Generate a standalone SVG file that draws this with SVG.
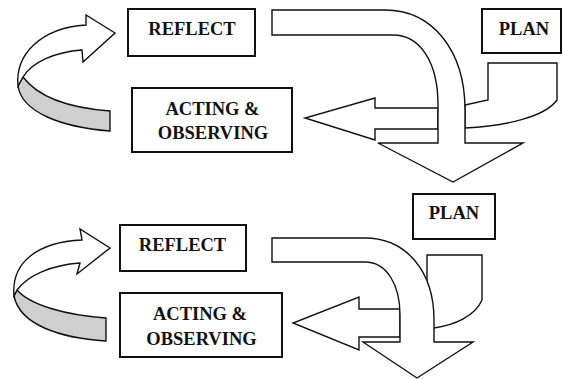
<svg xmlns="http://www.w3.org/2000/svg" width="563" height="379" viewBox="0 0 563 379">
<style>
.box{fill:#fff;stroke:#111;stroke-width:2}
.lbl{font-family:"Liberation Serif","Times New Roman",serif;font-weight:bold;font-size:18.5px;fill:#111;text-anchor:middle}
.arr{fill:#fff;stroke:#111;stroke-width:1.4;stroke-linejoin:miter}
.band{fill:#cfcfcf;stroke:#111;stroke-width:1.4}
</style>
<rect width="563" height="379" fill="#fff"/>
<g id="connectors">
  <!-- top cycle loop -->
  <path class="band" d="M23,77 C 38,97 70,108 110,111 L110,131 C 60,127 22,112 18,86 Z"/>
  <path class="arr" d="M86,25 L86,15 L115,33 L83,62 L82,50 C 55,52 32,62 23,77 L18,86 C 15,55 40,28 86,25 Z"/>
  <!-- top PLAN -> ACTING arrow -->
  <path class="arr" d="M465,105 L488,100 L488,63 L557,63 L557,100 C 545,117 505,126 465,128 Z"/>
  <path class="arr" d="M438,108 L375,108 L375,98 L305,118 L375,140 L375,129 L438,129 Z"/>
  <!-- top REFLECT -> PLAN arrow (down) -->
  <path class="arr" d="M272,10 L385,10 C 432,10 465,50 465,110 L465,143 L523,143 L453,182 L378,143 L438,143 L438,105 C 438,62 420,35 393,35 L272,35 Z"/>
  <!-- bottom cycle loop -->
  <path class="band" d="M17,290 C 30,305 65,315 106,318 L106,341 C 60,338 20,325 14,296 Z"/>
  <path class="arr" d="M82,240 L80,229 L110,248 L77,274 L80,263 C 52,265 28,275 17,290 L14,296 C 11,262 38,242 82,240 Z"/>
  <!-- bottom PLAN -> ACTING arrow -->
  <path class="arr" d="M427,255 L482,255 L482,300 C 475,316 455,325 434,328 L427,328 Z"/>
  <path class="arr" d="M400,309 L359,309 L359,297 L293,323 L359,350 L359,337 L400,337 Z"/>
  <!-- bottom REFLECT -> PLAN arrow (down) -->
  <path class="arr" d="M272,238 L365,238 C 405,238 434,270 434,320 L434,342 L473,342 L417,378 L363,342 L400,342 L400,315 C 400,285 387,262 365,262 L272,262 Z"/>
</g>
<g id="reflect1">
  <rect class="box" x="128" y="9" width="127" height="47"/>
  <text class="lbl" x="192" y="35">REFLECT</text>
</g>
<g id="acting1">
  <rect class="box" x="132" y="88" width="160" height="64"/>
  <text class="lbl" x="212.5" y="115">ACTING &amp;</text>
  <text class="lbl" x="213" y="139">OBSERVING</text>
</g>
<g id="plan1">
  <rect class="box" x="482" y="9" width="79" height="44"/>
  <text class="lbl" x="524" y="35">PLAN</text>
</g>
<g id="reflect2">
  <rect class="box" x="120" y="225" width="126" height="46"/>
  <text class="lbl" x="182.5" y="251">REFLECT</text>
</g>
<g id="acting2">
  <rect class="box" x="120" y="293" width="162" height="64"/>
  <text class="lbl" x="200" y="320">ACTING &amp;</text>
  <text class="lbl" x="201.5" y="345">OBSERVING</text>
</g>
<g id="plan2">
  <rect class="box" x="413" y="194" width="82" height="45"/>
  <text class="lbl" x="454" y="219">PLAN</text>
</g>
</svg>
